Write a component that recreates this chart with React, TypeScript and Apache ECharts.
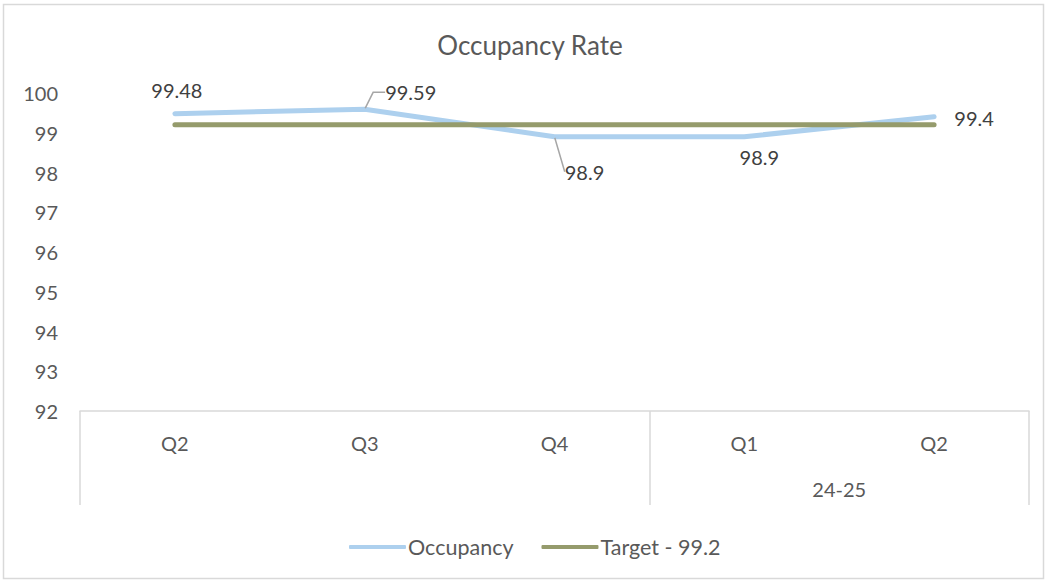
import React, { useEffect, useRef } from "react";
import * as echarts from "echarts";

const title = "Occupancy Rate";
const quarters = ["Q2", "Q3", "Q4", "Q1", "Q2"];
const groupNames = ["", "24-25"];
const groupSpans = [3, 2];
const occupancy = [99.48, 99.59, 98.9, 98.9, 99.4];
const targetValue = 99.2;
const target = quarters.map(() => targetValue);
const seriesNames = ["Occupancy", "Target - 99.2"];
const yMin = 92;
const yMax = 100;
const yStep = 1;

// label nudges (layout only)
const labelNudges = [
  { dx: 2, dy: -8, line: false, padding: [0, 0, 0, 0], length2: 0 },
  { dx: 42, dy: -1, line: true, padding: [0, 0, 0, 8], length2: 12 },
  { dx: 30, dy: 51, line: true, padding: [6, 0, 0, 0], length2: 0 },
  { dx: 15, dy: 36, line: false, padding: [0, 0, 0, 0], length2: 0 },
  { dx: 40, dy: 17, line: false, padding: [0, 0, 0, 0], length2: 0 },
];

const FONT = "Lato";
const TEXT = "#595959";

export default function App() {
  const ref = useRef<HTMLDivElement>(null);
  useEffect(() => {
    if (!ref.current) return;
    const chart = echarts.init(ref.current, null, { renderer: "svg" });

    const bounds: number[] = [0];
    const centers: number[] = [];
    let acc = 0;
    groupSpans.forEach((s) => {
      centers.push(acc + s / 2);
      acc += s;
      bounds.push(acc);
    });
    const labelCenters = centers.filter((_, i) => groupNames[i] !== "");

    chart.setOption({
      animation: false,
      backgroundColor: "#ffffff",
      textStyle: { fontFamily: FONT },
      title: {
        text: title,
        left: 530,
        top: 30,
        textAlign: "center",
        padding: 0,
        textStyle: { fontFamily: FONT, fontSize: 26, fontWeight: "normal", color: TEXT, lineHeight: 30 },
      },
      grid: { left: 80, right: 16, top: 93, bottom: 169 },
      legend: {
        left: 344,
        top: 531,
        icon: "roundRect",
        itemWidth: 57,
        itemHeight: 4,
        itemGap: 28,
        textStyle: { fontFamily: FONT, fontSize: 21.5, color: TEXT, padding: [0, 0, 0, -3] },
        data: seriesNames,
      },
      xAxis: [
        {
          type: "category",
          data: quarters,
          boundaryGap: true,
          axisLine: { show: true, lineStyle: { color: "#d9d9d9", width: 1.5 } },
          axisTick: { show: false },
          axisLabel: { color: TEXT, fontSize: 20, margin: 22, fontFamily: FONT },
          splitLine: { show: false },
        },
        {
          type: "value",
          position: "bottom",
          min: 0,
          max: quarters.length,
          axisLine: { show: false },
          splitLine: { show: false },
          axisTick: {
            show: true,
            customValues: bounds,
            length: 94,
            lineStyle: { color: "#d9d9d9", width: 1.5 },
          },
          axisLabel: {
            show: true,
            customValues: labelCenters,
            formatter: (v: number) => {
              const idx = centers.indexOf(v);
              return idx >= 0 ? groupNames[idx] : "";
            },
            color: TEXT,
            fontSize: 20,
            margin: 68,
            fontFamily: FONT,
          },
        },
      ],
      yAxis: {
        type: "value",
        min: yMin,
        max: yMax,
        interval: yStep,
        axisLine: { show: false },
        axisTick: { show: false },
        splitLine: { show: false },
        axisLabel: { color: TEXT, fontSize: 20, margin: 22, fontFamily: FONT },
      },
      series: [
        {
          name: seriesNames[0],
          type: "line",
          xAxisIndex: 0,
          data: occupancy.map((v, i) => ({
            value: v,
            label: { padding: labelNudges[i].padding },
            labelLine: { show: labelNudges[i].line, length2: labelNudges[i].length2 },
          })),
          symbol: "circle",
          symbolSize: 2,
          showSymbol: true,
          lineStyle: { color: "#ADD0EE", width: 5, cap: "round", join: "round" },
          itemStyle: { color: "#ADD0EE" },
          label: {
            show: true,
            position: "top",
            distance: 5,
            color: "#404040",
            fontSize: 20,
            fontFamily: FONT,
          },
          labelLine: { show: true, lineStyle: { color: "#a6a6a6", width: 1.5 } },
          labelLayout: (p: any) => ({ dx: labelNudges[p.dataIndex].dx, dy: labelNudges[p.dataIndex].dy }),
          z: 2,
        },
        {
          name: seriesNames[1],
          type: "line",
          xAxisIndex: 0,
          data: target,
          symbol: "none",
          lineStyle: { color: "#959B6C", width: 5, cap: "round" },
          itemStyle: { color: "#959B6C" },
          z: 3,
        },
      ],
      graphic: [
        {
          type: "rect",
          shape: { x: 3.5, y: 4.5, width: 1040, height: 574 },
          style: { fill: "none", stroke: "#d9d9d9", lineWidth: 1.5 },
          silent: true,
        },
      ],
    });
    return () => chart.dispose();
  }, []);
  return (
    <div
      ref={ref}
      style={{ position: "fixed", left: 0, top: 0, width: 1045, height: 580 }}
    />
  );
}
